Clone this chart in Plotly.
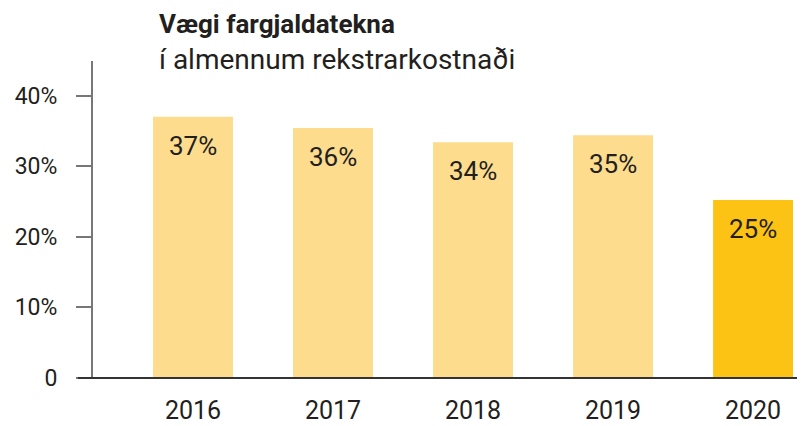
import plotly.graph_objects as go

years = ["2016", "2017", "2018", "2019", "2020"]
values = [37.0, 35.4, 33.4, 34.4, 25.2]
labels = ["37%", "36%", "34%", "35%", "25%"]
colors = ["#FDDC8E", "#FDDC8E", "#FDDC8E", "#FDDC8E", "#FDC314"]
ytick_vals = [0, 10, 20, 30, 40]
ytick_text = ["0", "10%", "20%", "30%", "40%"]

FONT = "Roboto"
TXT = "#231F20"

# page body has an 8px margin: figure spans page px 8..805 x 8..426
PLOT_TOP, PLOT_BOT, PLOT_L = 61, 378, 93
PH = PLOT_BOT - PLOT_TOP
PW = 805 - PLOT_L


def py(p):
    return (PLOT_BOT - p) / PH


def px(p):
    return (p - PLOT_L) / PW


fig = go.Figure(go.Bar(x=years, y=values, marker=dict(color=colors, line=dict(width=0)),
                       width=0.571, hoverinfo="skip"))

for i, (v, lab) in enumerate(zip(values, labels)):
    fig.add_annotation(x=i, y=v, xref="x", yref="y", text=lab, showarrow=False,
                       yanchor="top", yshift=-12,
                       font=dict(family=FONT, size=26, color=TXT))

fig.add_annotation(xref="paper", yref="paper", x=px(157), y=py(24), xanchor="left",
                   yanchor="middle", text="<b>Vægi fargjaldatekna</b>",
                   showarrow=False, font=dict(family=FONT, size=26, color=TXT))
fig.add_annotation(xref="paper", yref="paper", x=px(157), y=py(59), xanchor="left",
                   yanchor="middle", text="í almennum rekstrarkostnaði",
                   showarrow=False, font=dict(family=FONT, size=28, color=TXT))

fig.add_shape(type="line", xref="paper", yref="paper", x0=px(78), x1=1, y0=0, y1=0,
              line=dict(color="#333333", width=2))

fig.update_layout(
    width=797, height=418,
    margin=dict(l=PLOT_L - 8, r=0, t=PLOT_TOP - 8, b=426 - PLOT_BOT),
    plot_bgcolor="white", paper_bgcolor="white",
    showlegend=False,
    xaxis=dict(type="category", range=[-0.714, 4.371], showline=False, ticks="",
               showgrid=False, tickfont=dict(family=FONT, size=25, color=TXT),
               ticklabelstandoff=15, automargin=False),
    yaxis=dict(range=[0, 44.9], tickvals=ytick_vals, ticktext=ytick_text, showgrid=False,
               zeroline=False, showline=True, linecolor="#777777", linewidth=2,
               ticks="outside", ticklen=15, tickcolor="#777777", tickwidth=2,
               ticklabelstandoff=14, automargin=False,
               tickfont=dict(family=FONT, size=23, color=TXT)),
)

fig.write_html("out.html")
